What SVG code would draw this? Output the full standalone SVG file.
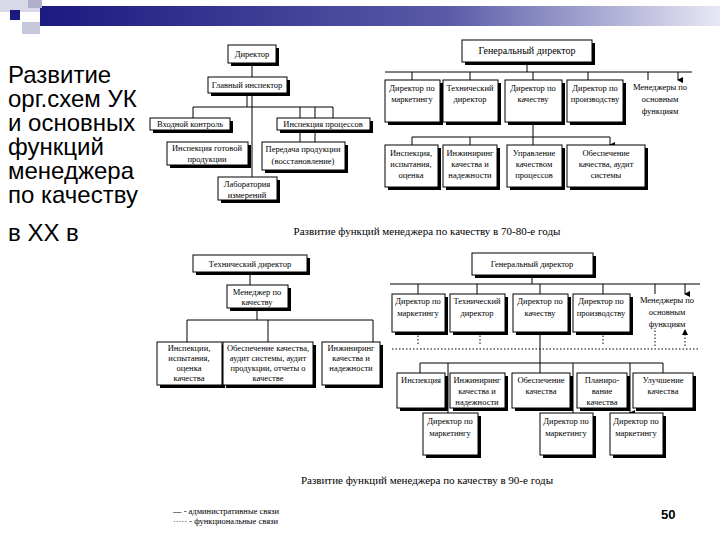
<svg xmlns="http://www.w3.org/2000/svg" width="720" height="540" viewBox="0 0 720 540">
<defs>
<linearGradient id="bar" x1="0" x2="1"><stop offset="0" stop-color="#1a1a80"/><stop offset="0.6" stop-color="#5a5aa8"/><stop offset="1" stop-color="#e8e8f4"/></linearGradient>
<marker id="ah" markerWidth="6" markerHeight="6" refX="3" refY="5" orient="auto-start-reverse" markerUnits="userSpaceOnUse"><path d="M0,0 L6,0 L3,6 z" fill="#000"/></marker>
<marker id="au" markerWidth="6" markerHeight="6" refX="3" refY="1" markerUnits="userSpaceOnUse"><path d="M0,6 L6,6 L3,0 z" fill="#000"/></marker>
</defs>
<style>
.sh{fill:#000}
.bx{fill:#fff;stroke:#000;stroke-width:1}
.t{font-family:"Liberation Serif","Times New Roman",serif;font-size:8.5px;fill:#000;text-anchor:middle}
.c{font-family:"Liberation Serif","Times New Roman",serif;font-size:11px;fill:#000;text-anchor:middle}
.l{font-family:"Liberation Serif","Times New Roman",serif;font-size:8.5px;fill:#000}
.ln{stroke:#000;stroke-width:1;fill:none}
.dt{stroke:#000;stroke-width:1;fill:none;stroke-dasharray:1.5,2}
.h{font-family:"Liberation Sans",Arial,sans-serif;font-size:24px;fill:#000}
</style>
<rect width="720" height="540" fill="#fff"/>
<g id="header">
<rect x="40" y="6" width="680" height="20" fill="url(#bar)"/>
<rect x="0" y="0" width="40" height="12" fill="#d8d8e8"/>
<rect x="22" y="22" width="18" height="12" fill="#c8c8dc"/>
<rect x="10" y="10" width="10" height="10" fill="#1a1a80"/>
<rect x="28" y="0" width="14" height="8" fill="#b0b0cc"/>
</g>
<g id="title">
<text class="h" x="8" y="83">Развитие</text>
<text class="h" x="8" y="107">орг.схем УК</text>
<text class="h" x="8" y="131">и основных</text>
<text class="h" x="8" y="155">функций</text>
<text class="h" x="8" y="179">менеджера</text>
<text class="h" x="8" y="203">по качеству</text>
<text class="h" x="8" y="241">в XX в</text>
</g>
<g id="connectors">
<path class="ln" d="M252,63 V177 M247,93 V107 M193,107 H333 M193,107 V118 M333,107 V118 M300,107 V142 M315,107 V142"/>
<path class="ln" d="M527,62 V72 M385,72 H692"/>
<path class="ln" marker-end="url(#ah)" d="M412,72 V80 M470,72 V80 M533,72 V80 M588,72 V80 M648,72 V80 M678,72 V80"/>
<path class="ln" d="M533,122 V137 M412,137 H610"/>
<path class="ln" marker-end="url(#ah)" d="M412,137 V145 M470,137 V145 M533,137 V145 M610,137 V145"/>
<path class="ln" d="M250,272 V285 M257,308 V320 M187,320 H373 M187,320 V342 M268,320 V342 M373,320 V342"/>
<path class="ln" d="M532,275 V284 M390,284 H700"/>
<path class="ln" marker-end="url(#ah)" d="M418,284 V294 M477,284 V294 M540,284 V294 M603,284 V294 M655,284 V294 M685,284 V294"/>
<path class="dt" d="M418,332 V346 M480,332 V346 M603,332 V346 M392,349 H700"/>
<path class="dt" marker-end="url(#au)" d="M655,346 V330 M685,346 V330"/>
<path class="ln" d="M540,332 V363 M420,363 H663"/>
<path class="ln" marker-end="url(#ah)" d="M420,363 V373 M540,363 V373 M663,363 V373 M448,363 V413 M573,363 V413 M630,363 V413"/>
</g>
<g id="n1-director"><rect class="sh" x="231" y="48" width="48" height="18"/><rect class="bx" x="228" y="45" width="48" height="18"/><text class="t" x="252" y="57">Директор</text></g>
<g id="n1-glavinsp"><rect class="sh" x="211" y="80" width="79" height="16"/><rect class="bx" x="208" y="77" width="79" height="16"/><text class="t" x="247" y="88">Главный инспектор</text></g>
<g id="n1-vhod"><rect class="sh" x="153" y="121" width="80" height="12"/><rect class="bx" x="150" y="118" width="80" height="12"/><text class="t" x="190" y="127">Входной контроль</text></g>
<g id="n1-insproc"><rect class="sh" x="280" y="121" width="93" height="12"/><rect class="bx" x="277" y="118" width="93" height="12"/><text class="t" x="323" y="127">Инспекция процессов</text></g>
<g id="n1-insgot"><rect class="sh" x="170" y="145" width="81" height="23"/><rect class="bx" x="167" y="142" width="81" height="23"/><text class="t" x="207" y="151">Инспекция готовой</text><text class="t" x="207" y="162">продукции</text></g>
<g id="n1-pered"><rect class="sh" x="265" y="145" width="83" height="28"/><rect class="bx" x="262" y="142" width="83" height="28"/><text class="t" x="303" y="152">Передача продукции</text><text class="t" x="303" y="164">(восстановление)</text></g>
<g id="n1-lab"><rect class="sh" x="221" y="180" width="59" height="23"/><rect class="bx" x="218" y="177" width="59" height="23"/><text class="t" x="247" y="187">Лаборатория</text><text class="t" x="247" y="198">измерений</text></g>
<text class="c" x="427" y="235">Развитие функций менеджера по качеству в 70-80-е годы</text>
<g id="n2-gen"><rect class="sh" x="465" y="43" width="130" height="22"/><rect class="bx" x="462" y="40" width="130" height="22"/><text class="t" x="527" y="54" style="font-size:10px">Генеральный директор</text></g>
<g id="n2-mark"><rect class="sh" x="388" y="83" width="55" height="42"/><rect class="bx" x="385" y="80" width="55" height="42"/><text class="t" x="412" y="91">Директор по</text><text class="t" x="412" y="102">маркетингу</text></g>
<g id="n2-tech"><rect class="sh" x="446" y="83" width="55" height="42"/><rect class="bx" x="443" y="80" width="55" height="42"/><text class="t" x="470" y="91">Технический</text><text class="t" x="470" y="102">директор</text></g>
<g id="n2-kach"><rect class="sh" x="508" y="83" width="57" height="42"/><rect class="bx" x="505" y="80" width="57" height="42"/><text class="t" x="533" y="91">Директор по</text><text class="t" x="533" y="102">качеству</text></g>
<g id="n2-proiz"><rect class="sh" x="570" y="83" width="56" height="42"/><rect class="bx" x="567" y="80" width="56" height="42"/><text class="t" x="595" y="91">Директор по</text><text class="t" x="595" y="102">производству</text></g>
<g id="n2-men"><text class="t" x="660" y="90">Менеджеры по</text><text class="t" x="660" y="102">основным</text><text class="t" x="660" y="114">функциям</text></g>
<g id="n2-insp"><rect class="sh" x="388" y="148" width="53" height="42"/><rect class="bx" x="385" y="145" width="53" height="42"/><text class="t" x="411" y="156">Инспекция,</text><text class="t" x="411" y="167">испытания,</text><text class="t" x="411" y="178">оценка</text></g>
<g id="n2-inzh"><rect class="sh" x="446" y="148" width="54" height="42"/><rect class="bx" x="443" y="145" width="54" height="42"/><text class="t" x="470" y="156">Инжиниринг</text><text class="t" x="470" y="167">качества и</text><text class="t" x="470" y="178">надежности</text></g>
<g id="n2-upr"><rect class="sh" x="510" y="148" width="55" height="42"/><rect class="bx" x="507" y="145" width="55" height="42"/><text class="t" x="534" y="156">Управление</text><text class="t" x="534" y="167">качеством</text><text class="t" x="534" y="178">процессов</text></g>
<g id="n2-obesp"><rect class="sh" x="570" y="148" width="78" height="42"/><rect class="bx" x="567" y="145" width="78" height="42"/><text class="t" x="606" y="156">Обеспечение</text><text class="t" x="606" y="167">качества, аудит</text><text class="t" x="606" y="178">системы</text></g>
<g id="n3-tech"><rect class="sh" x="196" y="258" width="114" height="17"/><rect class="bx" x="193" y="255" width="114" height="17"/><text class="t" x="250" y="267">Технический директор</text></g>
<g id="n3-men"><rect class="sh" x="230" y="288" width="61" height="23"/><rect class="bx" x="227" y="285" width="61" height="23"/><text class="t" x="257" y="295">Менеджер по</text><text class="t" x="257" y="305">качеству</text></g>
<g id="n3-insp"><rect class="sh" x="160" y="345" width="65" height="43"/><rect class="bx" x="157" y="342" width="65" height="43"/><text class="t" x="189" y="351">Инспекции,</text><text class="t" x="189" y="361">испытания,</text><text class="t" x="189" y="371">оценка</text><text class="t" x="189" y="381">качества</text></g>
<g id="n3-obesp"><rect class="sh" x="226" y="345" width="90" height="43"/><rect class="bx" x="223" y="342" width="90" height="43"/><text class="t" x="268" y="351">Обеспечение качества,</text><text class="t" x="268" y="361">аудит системы, аудит</text><text class="t" x="268" y="371">продукции, отчеты о</text><text class="t" x="268" y="381">качестве</text></g>
<g id="n3-inzh"><rect class="sh" x="325" y="345" width="58" height="43"/><rect class="bx" x="322" y="342" width="58" height="43"/><text class="t" x="351" y="351">Инжиниринг</text><text class="t" x="351" y="361">качества и</text><text class="t" x="351" y="371">надежности</text></g>
<g id="n4-gen"><rect class="sh" x="475" y="256" width="121" height="22"/><rect class="bx" x="472" y="253" width="121" height="22"/><text class="t" x="532" y="267">Генеральный директор</text></g>
<g id="n4-mark"><rect class="sh" x="395" y="297" width="53" height="38"/><rect class="bx" x="392" y="294" width="53" height="38"/><text class="t" x="418" y="304">Директор по</text><text class="t" x="418" y="316">маркетингу</text></g>
<g id="n4-tech"><rect class="sh" x="453" y="297" width="55" height="38"/><rect class="bx" x="450" y="294" width="55" height="38"/><text class="t" x="477" y="304">Технический</text><text class="t" x="477" y="316">директор</text></g>
<g id="n4-kach"><rect class="sh" x="516" y="297" width="55" height="38"/><rect class="bx" x="513" y="294" width="55" height="38"/><text class="t" x="540" y="304">Директор по</text><text class="t" x="540" y="316">качеству</text></g>
<g id="n4-proiz"><rect class="sh" x="576" y="297" width="57" height="38"/><rect class="bx" x="573" y="294" width="57" height="38"/><text class="t" x="601" y="304">Директор по</text><text class="t" x="601" y="316">производству</text></g>
<g id="n4-men"><text class="t" x="667" y="303">Менеджеры по</text><text class="t" x="667" y="315">основным</text><text class="t" x="667" y="327">функциям</text></g>
<g id="n4-insp"><rect class="sh" x="400" y="376" width="48" height="35"/><rect class="bx" x="397" y="373" width="48" height="35"/><text class="t" x="421" y="383">Инспекция</text></g>
<g id="n4-inzh"><rect class="sh" x="453" y="376" width="55" height="35"/><rect class="bx" x="450" y="373" width="55" height="35"/><text class="t" x="477" y="383">Инжиниринг</text><text class="t" x="477" y="394">качества и</text><text class="t" x="477" y="405">надежности</text></g>
<g id="n4-obesp"><rect class="sh" x="515" y="376" width="58" height="35"/><rect class="bx" x="512" y="373" width="58" height="35"/><text class="t" x="541" y="383">Обеспечение</text><text class="t" x="541" y="394">качества</text></g>
<g id="n4-plan"><rect class="sh" x="580" y="376" width="50" height="35"/><rect class="bx" x="577" y="373" width="50" height="35"/><text class="t" x="602" y="383">Планиро-</text><text class="t" x="602" y="394">вание</text><text class="t" x="602" y="405">качества</text></g>
<g id="n4-ulu"><rect class="sh" x="636" y="376" width="60" height="35"/><rect class="bx" x="633" y="373" width="60" height="35"/><text class="t" x="663" y="383">Улучшение</text><text class="t" x="663" y="394">качества</text></g>
<g id="n4-m1"><rect class="sh" x="426" y="416" width="55" height="42"/><rect class="bx" x="423" y="413" width="55" height="42"/><text class="t" x="450" y="424">Директор по</text><text class="t" x="450" y="436">маркетингу</text></g>
<g id="n4-m2"><rect class="sh" x="543" y="416" width="53" height="42"/><rect class="bx" x="540" y="413" width="53" height="42"/><text class="t" x="566" y="424">Директор по</text><text class="t" x="566" y="436">маркетингу</text></g>
<g id="n4-m3"><rect class="sh" x="613" y="416" width="53" height="42"/><rect class="bx" x="610" y="413" width="53" height="42"/><text class="t" x="636" y="424">Директор по</text><text class="t" x="636" y="436">маркетингу</text></g>
<text class="c" x="427" y="484">Развитие функций менеджера по качеству в 90-е годы</text>
<g id="legend">
<text class="l" x="173" y="514">— - административные связи</text>
<text class="l" x="173" y="524">····· - функциональные связи</text>
</g>
<text style="font-family:'Liberation Sans',Arial,sans-serif;font-size:13px;font-weight:bold" x="661" y="519">50</text>
</svg>
